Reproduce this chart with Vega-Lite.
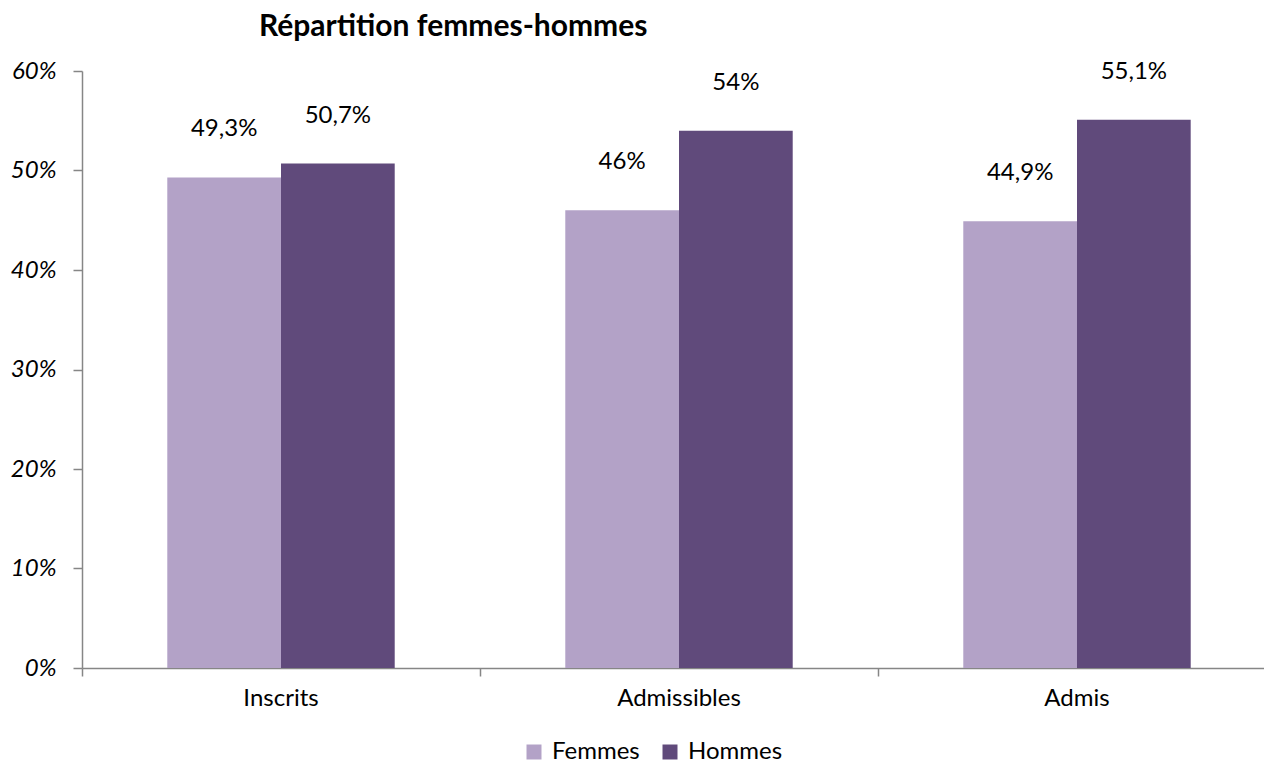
{
  "$schema": "https://vega.github.io/schema/vega-lite/v6.json",
  "autosize": {"type": "none"},
  "padding": {"left": 82, "top": 71, "right": 0, "bottom": 99},
  "width": 1182,
  "height": 597,
  "background": "white",
  "config": {
    "font": "Lato",
    "view": {"stroke": null},
    "locale": {"number": {"decimal": ",", "thousands": " ", "grouping": [3], "currency": ["", " €"]}}
  },
  "title": {
    "text": "Répartition femmes-hommes",
    "anchor": "start",
    "frame": "group",
    "dx": 177,
    "dy": 11,
    "fontSize": 30,
    "fontWeight": "bold",
    "color": "#000000",
    "font": "Lato",
    "offset": 28
  },
  "data": {
    "values": [
      {"etape": "Inscrits", "sexe": "Femmes", "part": 0.493},
      {"etape": "Inscrits", "sexe": "Hommes", "part": 0.507},
      {"etape": "Admissibles", "sexe": "Femmes", "part": 0.46},
      {"etape": "Admissibles", "sexe": "Hommes", "part": 0.54},
      {"etape": "Admis", "sexe": "Femmes", "part": 0.449},
      {"etape": "Admis", "sexe": "Hommes", "part": 0.551}
    ]
  },
  "encoding": {
    "x": {
      "field": "etape",
      "type": "nominal",
      "sort": ["Inscrits", "Admissibles", "Admis"],
      "scale": {"range": [0, 1194], "paddingInner": 0, "paddingOuter": 0},
      "axis": {
        "title": null,
        "bandPosition": 0,
        "domainColor": "#868686",
        "domainWidth": 1.5,
        "tickColor": "#868686",
        "tickSize": 8,
        "tickWidth": 1.5,
        "labelAngle": 0,
        "labelFontSize": 24,
        "labelColor": "#000000",
        "labelPadding": 10,
        "labelFont": "Lato"
      }
    },
    "xOffset": {
      "field": "sexe",
      "type": "nominal",
      "sort": ["Femmes", "Hommes"],
      "scale": {"paddingInner": 0, "paddingOuter": 0.75}
    },
    "y": {
      "field": "part",
      "type": "quantitative",
      "scale": {"domain": [0, 0.6], "nice": false},
      "axis": {
        "title": null,
        "values": [0, 0.1, 0.2, 0.3, 0.4, 0.5, 0.6],
        "format": ".0%",
        "grid": false,
        "domainColor": "#868686",
        "domainWidth": 1.5,
        "tickColor": "#868686",
        "tickSize": 9,
        "tickWidth": 1.5,
        "labelFontSize": 24,
        "labelFontStyle": "italic",
        "labelColor": "#000000",
        "labelPadding": 17,
        "labelFont": "Lato"
      }
    }
  },
  "layer": [
    {
      "mark": {"type": "bar"},
      "encoding": {
        "color": {
          "field": "sexe",
          "type": "nominal",
          "sort": ["Femmes", "Hommes"],
          "scale": {"domain": ["Femmes", "Hommes"], "range": ["#B3A2C7", "#604A7B"]},
          "legend": {
            "title": null,
            "orient": "none",
            "direction": "horizontal",
            "legendX": 440,
            "legendY": 669,
            "padding": 0,
            "symbolType": "square",
            "symbolSize": 225,
            "symbolStrokeWidth": 0,
            "labelFontSize": 24,
            "labelColor": "#000000",
            "labelFont": "Lato",
            "labelOffset": 6,
            "columnPadding": 18
          }
        }
      }
    },
    {
      "mark": {"type": "text", "fontSize": 24, "color": "#000000", "dy": -48, "font": "Lato"},
      "encoding": {
        "text": {"field": "part", "type": "quantitative", "format": "~%"}
      }
    }
  ]
}
